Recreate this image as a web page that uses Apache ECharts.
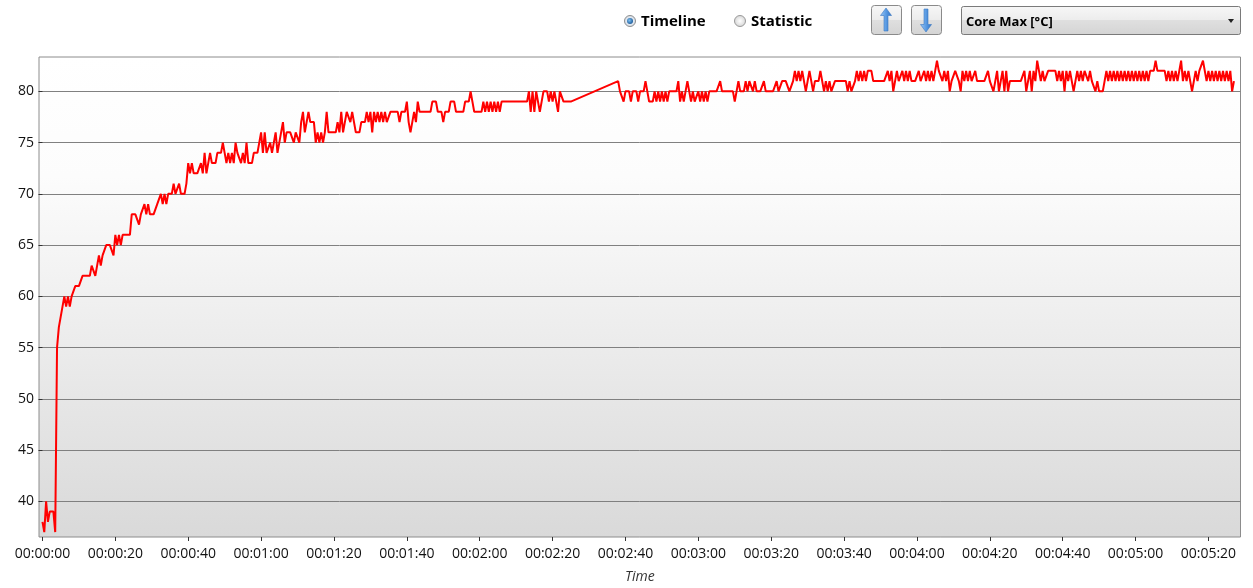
<!DOCTYPE html>
<html>
<head>
<meta charset="utf-8">
<script src="https://cdn.jsdelivr.net/npm/echarts@6/dist/echarts.min.js"></script>
<style>
html,body{margin:0;padding:0;background:#fff;}
#chart{width:1253px;height:588px;}
</style>
</head>
<body>
<div id="chart"></div>
<script>
// Sampling clock of the log (seconds between readings)
const sampleStep = 0.5;
// First recording run starts at 0 s
const run1Start = 0;
const run1 = [
  38,37,40,38,39,39,39,37,55,57,
  58,59,60,59,60,59,60,60,61,61,
  61,61,62,62,62,62,62,63,63,62,
  63,64,63,64,64,65,65,65,65,64,
  66,65,66,65,66,66,66,66,66,68,
  68,68,68,67,68,68,69,68,69,68,
  68,68,68,69,69,70,69,70,69,70,
  70,70,71,70,70,71,70,70,70,71,
  73,72,73,72,72,72,72,73,72,74,
  72,73,74,73,73,73,74,74,74,75,
  74,73,74,73,74,73,75,74,74,73,
  74,73,75,73,73,73,74,74,74,74,
  76,74,76,74,74,75,74,75,76,74,
  75,75,77,75,76,76,76,76,75,76,
  76,75,77,78,76,77,78,77,77,77,
  75,76,75,76,75,76,78,76,76,76,
  76,76,77,76,78,76,76,78,78,77,
  78,77,76,76,76,77,77,77,78,77,
  78,76,78,77,78,77,78,77,78,77,
  77,78,78,78,78,78,77,78,78,78,
  79,77,76,77,78,77,79,78,78,78,
  78,78,78,78,79,79,79,78,78,78,
  77,78,78,78,79,79,79,78,78,78,
  78,78,79,79,79,80,79,78,78,78,
  78,78,79,78,79,78,79,78,79,78,
  79,78,79,79,79,79,79,79,79,79,
  79,79,79,79,79,79,79,80,78,80,
  78,80,80,78,79,80,80,80,79,80,
  79,80,80,78,80,80,79,79,79,79,
  79,79
];
// Second run resumes at 158 s after a gap in the log
const run2Start = 158;
const run2 = [
  81,80,80,79,80,80,80,79,80,80,
  80,79,80,80,80,81,80,79,79,79,
  80,79,80,79,80,79,80,79,80,80,
  80,80,80,81,79,80,79,80,81,80,
  79,80,79,79,80,79,80,79,80,79,
  80,80,80,80,80,80,81,80,80,80,
  80,80,80,80,79,80,81,80,80,80,
  81,80,81,81,80,81,80,80,80,80,
  81,80,80,80,80,80,80,81,80,80,
  81,81,81,81,80,80,81,82,81,82,
  81,82,81,80,81,82,81,80,81,81,
  81,82,81,80,81,80,81,80,80,81,
  81,81,81,81,81,81,80,81,80,80,
  81,82,81,82,81,82,81,82,82,82,
  81,81,81,81,81,81,81,81,82,81,
  82,80,81,82,81,81,82,81,82,81,
  82,81,81,81,81,82,81,81,82,81,
  82,81,82,81,82,83,82,82,81,82,
  81,82,80,81,81,82,82,81,80,82,
  81,82,81,82,81,81,82,81,81,81,
  81,81,81,82,81,81,80,81,82,80,
  81,82,80,82,80,81,81,81,81,81,
  81,81,81,82,80,81,82,80,82,81,
  83,82,81,82,81,81,82,82,82,82,
  82,81,82,81,82,80,82,81,82,81,
  80,81,82,81,82,81,82,82,81,82,
  81,81,80,81,80,80,80,81,82,81,
  82,81,82,81,82,81,82,81,82,81,
  82,81,82,81,82,81,82,81,82,81,
  82,81,82,82,82,83,82,82,82,82,
  82,81,82,81,82,81,82,81,82,83,
  81,82,81,82,81,80,81,82,81,82,
  82,83,82,81,82,81,82,81,82,81,
  82,81,82,81,82,81,82,80,81
];
const xTickSeconds = [0,20,40,60,80,100,120,140,160,180,200,220,240,260,280,300,320];
const xTickLabels = ['00:00:00','00:00:20','00:00:40','00:01:00','00:01:20','00:01:40','00:02:00','00:02:20',
  '00:02:40','00:03:00','00:03:20','00:03:40','00:04:00','00:04:20','00:04:40','00:05:00','00:05:20'];
const yTickValues = [40,45,50,55,60,65,70,75,80];
const seriesName = 'Core Max [°C]';
const axisTitle = 'Time';
const viewOptions = ['Timeline','Statistic'];

const points = [];
run1.forEach((v,i)=>points.push([run1Start + i*sampleStep, v]));
run2.forEach((v,i)=>points.push([run2Start + i*sampleStep, v]));

const FONT = '"Open Sans", "Noto Sans", sans-serif';
const chart = echarts.init(document.getElementById('chart'), null, {renderer:'canvas'});

function btnFill(){
  return {type:'linear',x:0,y:0,x2:0,y2:1,colorStops:[{offset:0,color:'#f7f7f7'},{offset:0.5,color:'#ececec'},{offset:0.5,color:'#dfdfdf'},{offset:1,color:'#d4d4d4'}]};
}
function arrowFill(){
  return {type:'linear',x:0,y:0,x2:1,y2:0,colorStops:[{offset:0,color:'#9cc8f5'},{offset:0.5,color:'#5a9be3'},{offset:1,color:'#2f71c4'}]};
}

const option = {
  animation:false,
  backgroundColor:'#ffffff',
  grid:{
    left:39, right:12.5, top:57, bottom:51,
    outerBoundsMode:'none',
    show:true,
    borderColor:'#8c8c8c', borderWidth:1,
    backgroundColor:{type:'linear',x:0,y:0,x2:0,y2:1,colorStops:[
      {offset:0,color:'#ffffff'},{offset:0.25,color:'#fcfcfc'},{offset:1,color:'#d9d9d9'}]}
  },
  xAxis:{
    type:'value', min:-0.95, max:328.8,
    axisLine:{show:false},
    axisTick:{show:true, customValues:xTickSeconds, length:4, lineStyle:{color:'#333'}},
    axisLabel:{customValues:xTickSeconds, margin:10, color:'#111', fontFamily:FONT, fontSize:14,
      formatter:(v)=>{const i=xTickSeconds.indexOf(Math.round(v)); return i>=0?xTickLabels[i]:'';}},
    splitLine:{show:false},
    name:axisTitle, nameLocation:'middle', nameGap:33,
    nameTextStyle:{fontStyle:'italic', fontFamily:FONT, fontSize:14, color:'#333'}
  },
  yAxis:{
    type:'value', min:36.52, max:83.35,
    axisLine:{show:false},
    axisTick:{show:true, customValues:yTickValues, length:4, lineStyle:{color:'#333'}},
    axisLabel:{customValues:yTickValues, margin:5, color:'#111', fontFamily:FONT, fontSize:14},
    splitLine:{show:true, lineStyle:{color:'#808080', width:1}}
  },
  series:[{
    name:seriesName, type:'line', data:points, showSymbol:false, symbol:'none',
    lineStyle:{color:'#ff0000', width:2}, itemStyle:{color:'#ff0000'}, clip:true
  }],
  graphic:[
    {type:'circle', shape:{cx:630, cy:21, r:5.5}, style:{fill:{type:'radial',x:0.5,y:0.5,r:0.5,colorStops:[{offset:0,color:'#ffffff'},{offset:1,color:'#cfd8e3'}]}, stroke:'#8e8f8f', lineWidth:1}},
    {type:'circle', shape:{cx:630, cy:21, r:3}, style:{fill:{type:'radial',x:0.4,y:0.4,r:0.6,colorStops:[{offset:0,color:'#7fc0f0'},{offset:1,color:'#1f5f9e'}]}}},
    {type:'text', x:641, y:22, style:{text:viewOptions[0], font:'bold 15px '+FONT, fill:'#000', verticalAlign:'middle'}},
    {type:'circle', shape:{cx:740, cy:21, r:5.5}, style:{fill:{type:'radial',x:0.5,y:0.5,r:0.5,colorStops:[{offset:0,color:'#ffffff'},{offset:1,color:'#d4d4d4'}]}, stroke:'#9a9a9a', lineWidth:1}},
    {type:'text', x:751, y:22, style:{text:viewOptions[1], font:'bold 15px '+FONT, fill:'#000', verticalAlign:'middle'}},
    {type:'rect', shape:{x:871.5, y:5.5, width:30, height:29, r:3}, style:{fill:btnFill(), stroke:'#8a8a8a', lineWidth:1}},
    {type:'polygon', shape:{points:[[886,8],[880.5,15.5],[884,15.5],[884,31],[888,31],[888,15.5],[891.5,15.5]]}, style:{fill:arrowFill(), stroke:'#3b78c2', lineWidth:0.6}},
    {type:'rect', shape:{x:911.5, y:5.5, width:30, height:29, r:3}, style:{fill:btnFill(), stroke:'#8a8a8a', lineWidth:1}},
    {type:'polygon', shape:{points:[[926,32],[920.5,24.5],[924,24.5],[924,9],[928,9],[928,24.5],[931.5,24.5]]}, style:{fill:arrowFill(), stroke:'#3b78c2', lineWidth:0.6}},
    {type:'rect', shape:{x:961.5, y:6.5, width:279, height:28, r:2}, style:{fill:btnFill(), stroke:'#7a7a7a', lineWidth:1}},
    {type:'text', x:966, y:22, style:{text:seriesName, font:'bold 13px '+FONT, fill:'#000', verticalAlign:'middle'}},
    {type:'polygon', shape:{points:[[1228,19],[1234,19],[1231,23]]}, style:{fill:'#222'}}
  ]
};
chart.setOption(option);
</script>
</body>
</html>
